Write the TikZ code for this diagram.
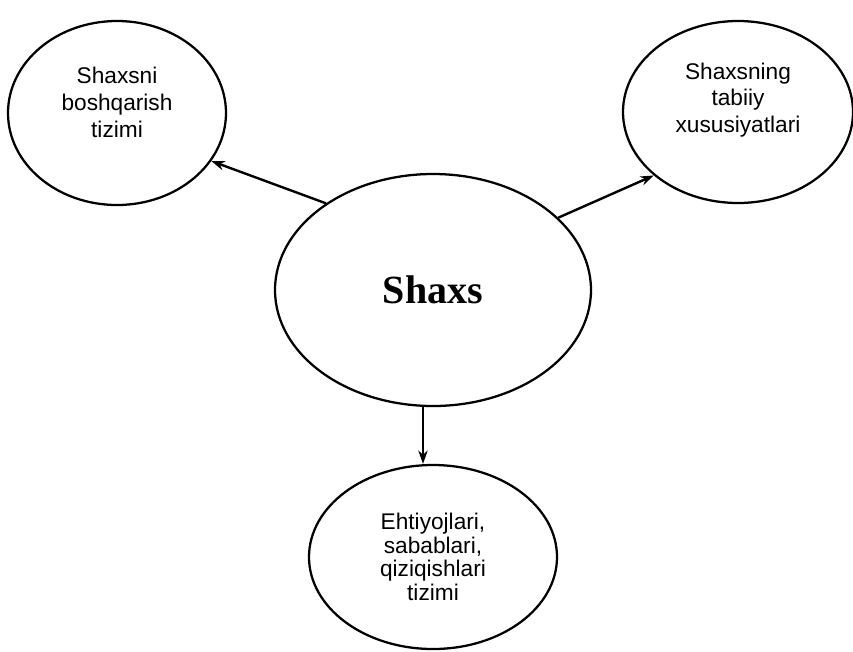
\documentclass[tikz,border=0pt]{standalone}
\usepackage{fontspec}
\setmainfont{Liberation Serif}
\setsansfont{Liberation Sans}
\usetikzlibrary{shapes,arrows.meta,positioning}
\tikzset{>={Stealth[length=10pt,width=7pt]}}
\tikzset{bubble/.style={ellipse,draw,line width=1.7pt,inner sep=0pt},
         bubble text/.style={align=center,font=\sffamily\fontsize{17}{20}\selectfont},
         link/.style={draw,line width=1.8pt,->},
            }

\begin{document}
\begin{tikzpicture}[x=0.75pt,y=-0.75pt]
    \useasboundingbox (0,0) rectangle (853,651);

    \node[bubble,minimum width=237pt,minimum height=174pt,
          font=\bfseries\fontsize{30}{36}\selectfont] (me) at (433,290) {Shaxs};
    \node[bubble,minimum width=163.5pt,minimum height=138pt,
          label={[bubble text,yshift=8pt]center:Shaxsni\\boshqarish\\tizimi}]
          (ctrl) [on grid,above left=132.75pt and 237pt of me] {};
    \node[bubble,minimum width=172.5pt,minimum height=136.5pt,
          label={[bubble text,yshift=9pt]center:Shaxsning\\tabiiy\\xususiyatlari}]
          (nat) [on grid,above right=133.5pt and 228.75pt of me] {};
    \node[bubble,minimum width=186pt,minimum height=138pt,bubble text,
          font=\sffamily\fontsize{17}{17.6}\selectfont]
          (needs) [on grid,below=200.25pt of me] {Ehtiyojlari,\\sabablari,\\qiziqishlari\\tizimi};

    \draw[link] (me.141.5) -- (ctrl.-27);
    \draw[link] (me.30.3) -- (nat.-143.3);
    \draw[link] ([xshift=-7.5pt]me.south) -- ([xshift=-7.5pt]me.south |- needs.north);

\end{tikzpicture}
\end{document}
